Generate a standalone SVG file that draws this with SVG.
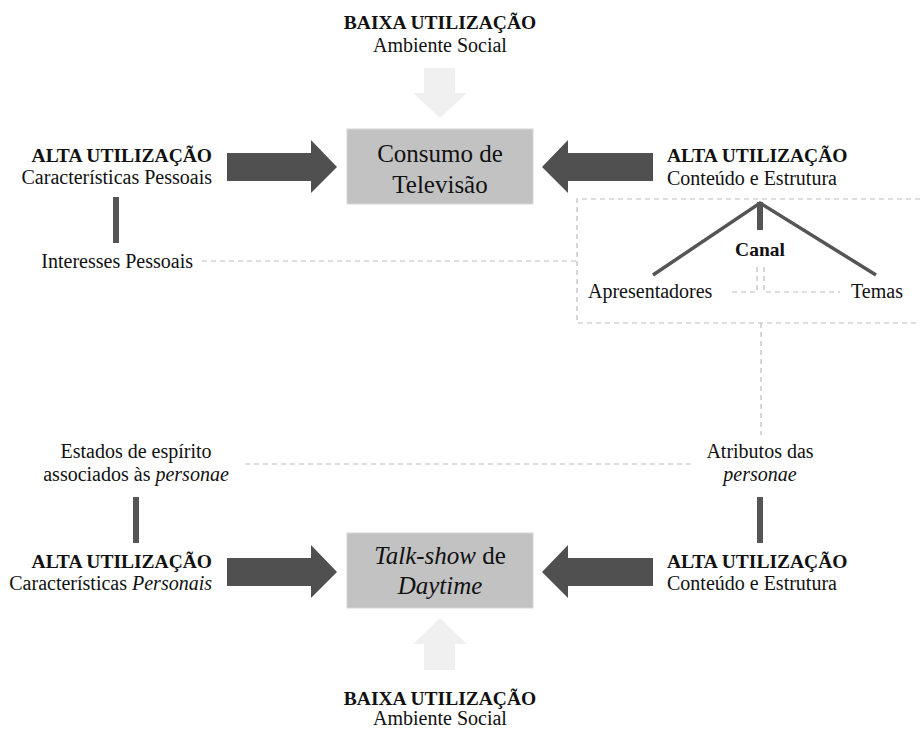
<svg xmlns="http://www.w3.org/2000/svg" width="920" height="729" viewBox="0 0 920 729" font-family="'Liberation Serif', 'DejaVu Serif', serif">
<style>
text{font-family:'Liberation Serif','DejaVu Serif',serif;font-size:20px;fill:#111}
.b{font-weight:bold;font-size:19.5px}
.c{text-anchor:middle}
.e{text-anchor:end}
.big{font-size:25px}
.box{fill:#c2c2c2;stroke:#d6d6d6;stroke-width:1}
.dark{fill:#505050}
.light{fill:#f0f0f0}
.bar{stroke:#555;stroke-width:6;fill:none}
.dash{stroke:#bdbdbd;stroke-width:1.2;stroke-dasharray:5 4;fill:none}
.tri{stroke:#555;stroke-width:3.5;fill:none}
</style>
<g id="connectors">
<path class="dash" d="M202 261 H577"/>
<path class="dash" d="M920 199 H577 V323 H920"/>
<path class="dash" d="M761 323 V435"/>
<path class="dash" d="M245 464 H695"/>
<path class="dash" d="M757 267 V292 H728 M764 267 V292 H840"/>
<path class="light" d="M424 68 H455 V93 H467 L440 118 L413 93 H424 Z"/>
<path class="light" d="M424 670 H455 V644 H467 L440 618 L413 644 H424 Z"/>
<path class="dark" d="M227 153 H311 V140 L337 167 L311 193 V181 H227 Z"/>
<path class="dark" d="M653 153 H568 V140 L542 167 L568 193 V181 H653 Z"/>
<path class="dark" d="M227 558 H311 V545 L337 572 L311 598 V586 H227 Z"/>
<path class="dark" d="M653 558 H568 V545 L542 572 L568 598 V586 H653 Z"/>
<path class="bar" d="M116 197 V243"/>
<path class="bar" d="M136 497 V543"/>
<path class="bar" d="M760 497 V543"/>
<path class="bar" d="M760 202 V230"/>
<path class="tri" d="M653 275 L760 203 L876 275"/>
</g>
<g id="baixa-top">
<text class="b c" x="440" y="29">BAIXA UTILIZAÇÃO</text>
<text class="c" x="440" y="52">Ambiente Social</text>
</g>
<g id="consumo">
<rect class="box" x="347" y="129" width="186" height="75"/>
<text class="c big" x="440" y="162">Consumo de</text>
<text class="c big" x="440" y="193">Televisão</text>
</g>
<g id="alta-pessoais">
<text class="b e" x="212" y="162">ALTA UTILIZAÇÃO</text>
<text class="e" x="212" y="184">Características Pessoais</text>
</g>
<g id="interesses">
<text class="e" x="193" y="268">Interesses Pessoais</text>
</g>
<g id="alta-conteudo-top">
<text class="b" x="667" y="162">ALTA UTILIZAÇÃO</text>
<text x="667" y="185">Conteúdo e Estrutura</text>
</g>
<g id="canal">
<text class="b c" x="760" y="256">Canal</text>
</g>
<g id="apresentadores">
<text x="588" y="298">Apresentadores</text>
</g>
<g id="temas">
<text x="851" y="298">Temas</text>
</g>
<g id="estados">
<text class="c" x="136" y="458">Estados de espírito</text>
<text class="c" x="136" y="481">associados às <tspan font-style="italic">personae</tspan></text>
</g>
<g id="atributos">
<text class="c" x="760" y="458">Atributos das</text>
<text class="c" x="760" y="481" font-style="italic">personae</text>
</g>
<g id="alta-personais">
<text class="b e" x="212" y="568">ALTA UTILIZAÇÃO</text>
<text class="e" x="212" y="590">Características <tspan font-style="italic">Personais</tspan></text>
</g>
<g id="talkshow">
<rect class="box" x="347" y="533" width="186" height="75"/>
<text class="c big" x="440" y="564"><tspan font-style="italic">Talk-show</tspan> de</text>
<text class="c big" x="440" y="594" font-style="italic">Daytime</text>
</g>
<g id="alta-conteudo-bottom">
<text class="b" x="667" y="568">ALTA UTILIZAÇÃO</text>
<text x="667" y="590">Conteúdo e Estrutura</text>
</g>
<g id="baixa-bottom">
<text class="b c" x="440" y="705">BAIXA UTILIZAÇÃO</text>
<text class="c" x="440" y="725">Ambiente Social</text>
</g>
</svg>
